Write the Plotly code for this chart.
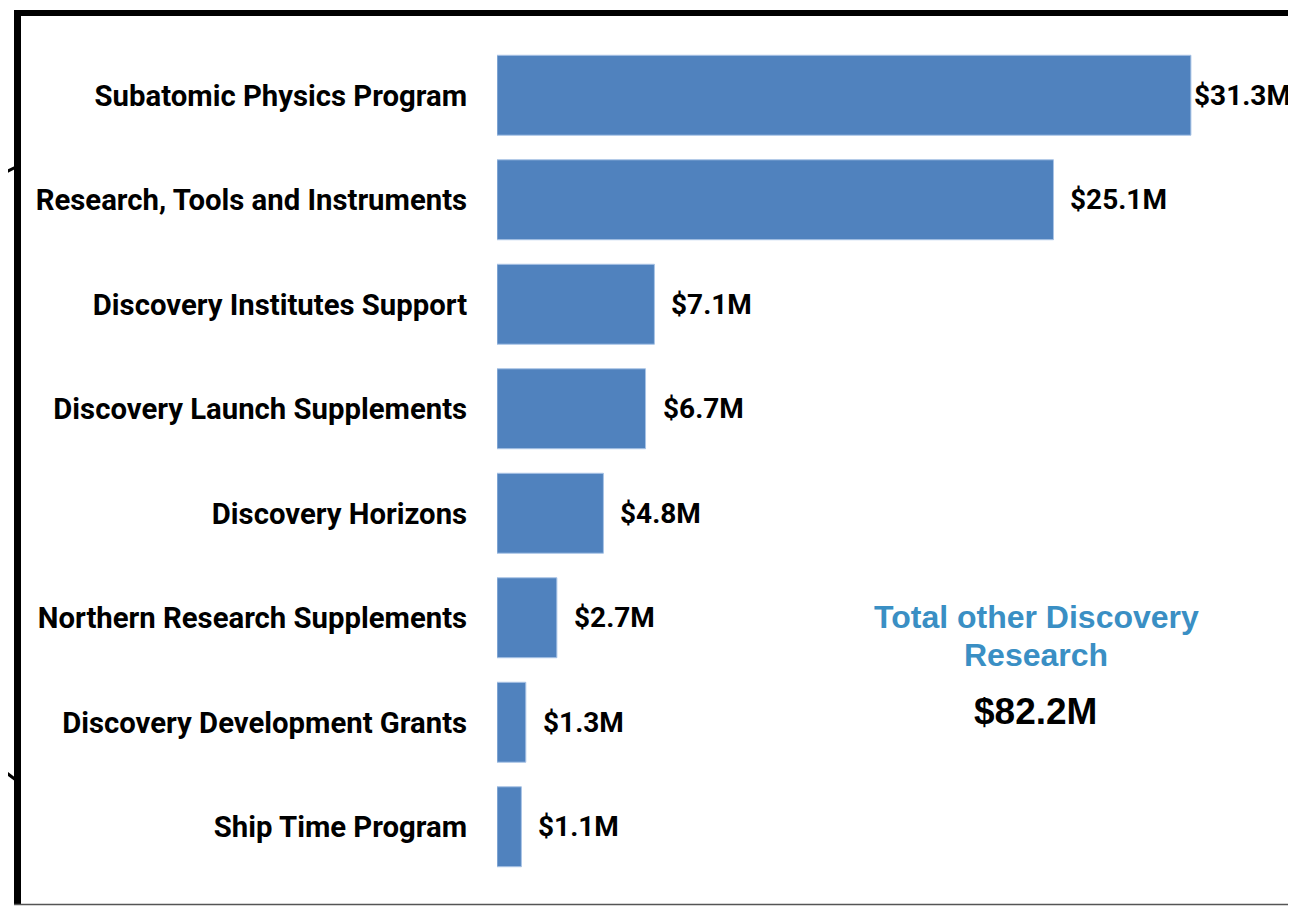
import plotly.graph_objects as go

categories = [
    "Subatomic Physics Program",
    "Research, Tools and Instruments",
    "Discovery Institutes Support",
    "Discovery Launch Supplements",
    "Discovery Horizons",
    "Northern Research Supplements",
    "Discovery Development Grants",
    "Ship Time Program",
]
values = [31.3, 25.1, 7.1, 6.7, 4.8, 2.7, 1.3, 1.1]
value_labels = ["$31.3M", "$25.1M", "$7.1M", "$6.7M", "$4.8M", "$2.7M", "$1.3M", "$1.1M"]
total_title_lines = ["Total other Discovery", "Research"]
total_value = "$82.2M"

OFF = 8  # default page body margin
W, H = 1296 - OFF, 906 - OFF
L, R, T = 497 - OFF, 0, 43 - OFF
B = H - (879 - OFF)
PW, PH = W - L - R, H - T - B
XMAX = PW / 22.17

def px(x):
    return (x - OFF - L) / PW

def py(y):
    return 1 - (y - OFF - T) / PH

fig = go.Figure()
fig.add_trace(go.Bar(
    x=values, y=categories, orientation="h",
    marker=dict(color="#5082BE", line=dict(color="#A9C4E6", width=1)),
    hoverinfo="skip",
))

annotations = []
for c, v, t in zip(categories, values, value_labels):
    annotations.append(dict(
        x=v, y=c, xref="x", yref="y", text=t, showarrow=False,
        xanchor="left", yanchor="middle", xshift=1 if v > 30 else 15,
        font=dict(family="Roboto", size=28, color="#000000", weight="bold"),
    ))
for line, yy in zip(total_title_lines, [617, 655]):
    annotations.append(dict(
        x=px(1036), y=py(yy), xref="paper", yref="paper", text=line,
        showarrow=False, xanchor="center", yanchor="middle", align="center",
        font=dict(family="Liberation Sans", size=32, color="#3A8FC4", weight="bold"),
    ))
annotations.append(dict(
    x=px(1035), y=py(711), xref="paper", yref="paper", text=total_value,
    showarrow=False, xanchor="center", yanchor="middle",
    font=dict(family="Liberation Sans", size=37, color="#000000", weight="bold"),
))

shapes = [
    dict(type="line", xref="paper", yref="paper", x0=px(14), x1=px(1310), y0=py(13), y1=py(13),
         line=dict(color="black", width=6)),
    dict(type="line", xref="paper", yref="paper", x0=px(17.5), x1=px(17.5), y0=py(10), y1=py(905),
         line=dict(color="black", width=7)),
    dict(type="line", xref="paper", yref="paper", x0=px(14), x1=px(1310), y0=py(904.5), y1=py(904.5),
         line=dict(color="#555555", width=1.5)),
    dict(type="line", xref="paper", yref="paper", x0=px(0), x1=px(16), y0=py(175), y1=py(167),
         line=dict(color="black", width=3)),
    dict(type="line", xref="paper", yref="paper", x0=px(0), x1=px(16), y0=py(768), y1=py(780),
         line=dict(color="black", width=3)),
]

fig.update_layout(
    width=W, height=H,
    margin=dict(l=L, r=R, t=T, b=B, autoexpand=False),
    paper_bgcolor="white", plot_bgcolor="white",
    showlegend=False, bargap=0.235,
    xaxis=dict(range=[0, XMAX], visible=False, fixedrange=True),
    yaxis=dict(autorange="reversed", showgrid=False, zeroline=False, showline=False,
               ticks="outside", ticklen=23, tickcolor="rgba(0,0,0,0)",
               tickfont=dict(family="Roboto", size=29.3, color="#000000", weight="bold")),
    annotations=annotations, shapes=shapes,
)

fig.write_html("out.html")
